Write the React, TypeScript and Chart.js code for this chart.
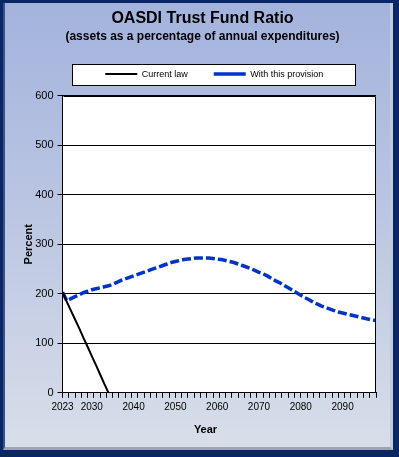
import React, { useEffect, useRef } from 'react';
import { Chart, registerables, layouts } from 'chart.js';

Chart.register(...registerables);

// ---- Data ----
const titleText = 'OASDI Trust Fund Ratio';
const subtitleText = '(assets as a percentage of annual expenditures)';
const seriesNames = ['Current law', 'With this provision'];
const xAxisTitle = 'Year';
const yAxisTitle = 'Percent';

const currentLawYears = [2023, 2024, 2025, 2026, 2027, 2028, 2029, 2030, 2031, 2032, 2033, 2034];
const currentLawValues = [203, 184, 166, 148, 130, 111, 93, 74, 56, 37, 18, 0];

const provisionStartYear = 2023;
const provisionValues = [
  203, 186, 190, 194, 198, 202, 205, 208, 210, 212,
  214, 216, 219, 223, 227, 230, 233, 236, 239, 242,
  245, 248, 251, 254, 257, 260, 263, 265, 267, 269,
  270, 271, 272, 272, 272, 272, 271, 270, 269, 267,
  265, 263, 260, 257, 254, 251, 247, 243, 240, 236,
  231, 226, 222, 217, 212, 207, 202, 197, 192, 188,
  183, 179, 175, 172, 169, 166, 163, 161, 159, 157,
  155, 153, 151, 149, 147, 146,
];
const provisionYears = provisionValues.map((_, i) => provisionStartYear + i);

const labeledYears = [2023, 2030, 2040, 2050, 2060, 2070, 2080, 2090];
const xMin = 2023;
const xMax = 2098;
const minorTickStep = 1.5;
const yMin = 0;
const yMax = 600;
const yStep = 100;

const FONT = "'Liberation Sans', Arial, Helvetica, sans-serif";

const isMinorTick = (v: number) => {
  const k = (v - xMin) / minorTickStep;
  return Math.abs(k - Math.round(k)) < 1e-6;
};

// empty layout box that leaves a gap between the legend and the plot
const spacerPlugin = {
  id: 'legendSpacer',
  beforeInit(chart: any) {
    const box: any = {
      position: 'top',
      weight: 500,
      fullSize: false,
      options: { stack: undefined, stackWeight: 1 },
      width: 0,
      height: 0,
      top: 0,
      left: 0,
      right: 0,
      bottom: 0,
      isHorizontal: () => true,
      update(maxWidth: number) {
        box.width = maxWidth;
        box.height = 7;
      },
      draw() {},
    };
    (layouts as any).addBox(chart, box);
  },
  afterLayout(chart: any) {
    // nudge the legend items slightly left, as in the original
    if (chart.legend) {
      chart.legend.left -= 5;
      chart.legend.right -= 5;
    }
  },
};

const decorPlugin = {
  id: 'decor',
  beforeDraw(chart: any) {
    const { ctx, chartArea, legend } = chart;
    ctx.save();
    ctx.fillStyle = '#ffffff';
    ctx.fillRect(chartArea.left, chartArea.top, chartArea.right - chartArea.left, chartArea.bottom - chartArea.top);
    if (legend) {
      const pad = legend.options.labels.padding;
      const fs = legend.options.labels.font.size || 9;
      const cx = (legend.left + legend.right) / 2 - 0.5;
      const cy = legend.top + pad + fs / 2;
      const w = 283;
      const h = 21;
      const x0 = Math.round(cx - w / 2) + 0.5;
      const y0 = Math.round(cy - h / 2) + 0.5;
      ctx.fillStyle = '#ffffff';
      ctx.fillRect(x0, y0, w, h);
      ctx.strokeStyle = '#000000';
      ctx.lineWidth = 1;
      ctx.strokeRect(x0, y0, w, h);
    }
    ctx.restore();
  },
  afterDraw(chart: any) {
    const { ctx, chartArea, scales } = chart;
    ctx.save();
    ctx.strokeStyle = '#000000';
    ctx.lineWidth = 1;
    ctx.beginPath();
    const l = Math.round(chartArea.left) + 0.5;
    const r = Math.round(chartArea.right) - 0.5;
    const t = Math.round(chartArea.top) + 0.5;
    const b = Math.round(chartArea.bottom) - 0.5;
    ctx.moveTo(l, t);
    ctx.lineTo(r, t);
    ctx.lineTo(r, b);
    ctx.stroke();
    // x-axis title, centred on the panel
    const xs = scales.x;
    ctx.fillStyle = '#000000';
    ctx.font = `bold 11px ${FONT}`;
    ctx.textAlign = 'center';
    ctx.textBaseline = 'middle';
    ctx.fillText(xAxisTitle, chart.width / 2 + 6, xs.bottom - 6.6);
    ctx.restore();
  },
};

export default function App() {
  const canvasRef = useRef<HTMLCanvasElement | null>(null);

  useEffect(() => {
    document.body.style.margin = '0';
    const canvas = canvasRef.current;
    if (!canvas) return;
    const chart = new Chart(canvas, {
      type: 'line',
      data: {
        datasets: [
          {
            label: seriesNames[0],
            data: currentLawYears.map((x, i) => ({ x, y: currentLawValues[i] })),
            borderColor: '#000000',
            backgroundColor: '#000000',
            borderWidth: 2,
            pointRadius: 0,
            tension: 0,
            fill: false,
          },
          {
            label: seriesNames[1],
            data: provisionYears.map((x, i) => ({ x, y: provisionValues[i] })),
            borderColor: '#0033cc',
            backgroundColor: '#0033cc',
            borderWidth: 3.5,
            borderDash: [9, 3],
            pointRadius: 0,
            tension: 0,
            fill: false,
          },
        ],
      },
      options: {
        responsive: false,
        animation: false,
        devicePixelRatio: 1,
        layout: { padding: { top: 9, left: 29, right: 23, bottom: 20.5 } },
        plugins: {
          title: {
            display: true,
            text: titleText,
            color: '#000000',
            font: { family: FONT, size: 16, weight: 'bold' },
            padding: { top: 0, bottom: 0 },
          },
          subtitle: {
            display: true,
            text: subtitleText,
            color: '#000000',
            font: { family: FONT, size: 12, weight: 'bold' },
            padding: { top: 1, bottom: 0 },
          },
          legend: {
            display: true,
            position: 'top',
            fullSize: false,
            labels: {
              color: '#000000',
              font: { family: FONT, size: 9 },
              usePointStyle: true,
              pointStyle: 'line',
              pointStyleWidth: 32,
              padding: 26,
            },
          },
          tooltip: { enabled: false },
        },
        scales: {
          x: {
            type: 'linear',
            min: xMin,
            max: xMax,
            afterBuildTicks: (scale: any) => {
              const vals: number[] = [];
              for (let k = 0; xMin + k * minorTickStep <= xMax + 1e-9; k++) {
                vals.push(xMin + k * minorTickStep);
              }
              labeledYears.forEach((y) => {
                if (!vals.some((v) => Math.abs(v - y) < 1e-6)) vals.push(y);
              });
              vals.sort((a, b) => a - b);
              scale.ticks = vals.map((value) => ({ value }));
            },
            ticks: {
              autoSkip: false,
              maxRotation: 0,
              minRotation: 0,
              padding: 3,
              color: '#000000',
              font: { family: FONT, size: 10 },
              callback: (value: any) =>
                labeledYears.some((y) => Math.abs(y - Number(value)) < 1e-6) ? String(value) : '',
            },
            grid: {
              drawOnChartArea: false,
              drawTicks: true,
              tickLength: 5,
              tickColor: (ctx: any) =>
                ctx.tick && isMinorTick(ctx.tick.value) ? '#000000' : 'rgba(0,0,0,0)',
              color: '#000000',
            },
            border: { display: true, color: '#000000', width: 1 },
            title: {
              display: true,
              text: xAxisTitle,
              color: 'rgba(0,0,0,0)',
              font: { family: FONT, size: 11, weight: 'bold' },
              padding: { top: 7.5, bottom: 0 },
            },
          },
          y: {
            type: 'linear',
            min: yMin,
            max: yMax,
            ticks: {
              stepSize: yStep,
              padding: 4,
              color: '#000000',
              font: { family: FONT, size: 11 },
            },
            grid: {
              color: '#000000',
              lineWidth: 1,
              tickLength: 5,
              tickColor: '#000000',
            },
            border: { display: true, color: '#000000', width: 1 },
            title: {
              display: true,
              text: yAxisTitle,
              color: '#000000',
              font: { family: FONT, size: 11, weight: 'bold' },
              padding: { top: -7, bottom: -4 },
            },
          },
        },
      },
      plugins: [spacerPlugin, decorPlugin],
    } as any);
    return () => chart.destroy();
  }, []);

  return (
    <div style={{ position: 'relative', width: 399, height: 457, background: '#0b2664', overflow: 'hidden' }}>
      <div
        style={{
          position: 'absolute',
          left: 3,
          top: 3,
          width: 390,
          height: 447,
          boxSizing: 'border-box',
          background: 'linear-gradient(to bottom, #a3b3dd 0%, #bcc7e2 50%, #d8dee9 100%)',
          borderLeft: '2px solid #34528f',
          borderRight: '3px solid #c2cad8',
          borderBottom: '3px solid #9fa5ae',
        }}
      />
      <canvas
        ref={canvasRef}
        width={399}
        height={457}
        style={{ position: 'absolute', left: 0, top: 0, display: 'block' }}
      />
    </div>
  );
}
